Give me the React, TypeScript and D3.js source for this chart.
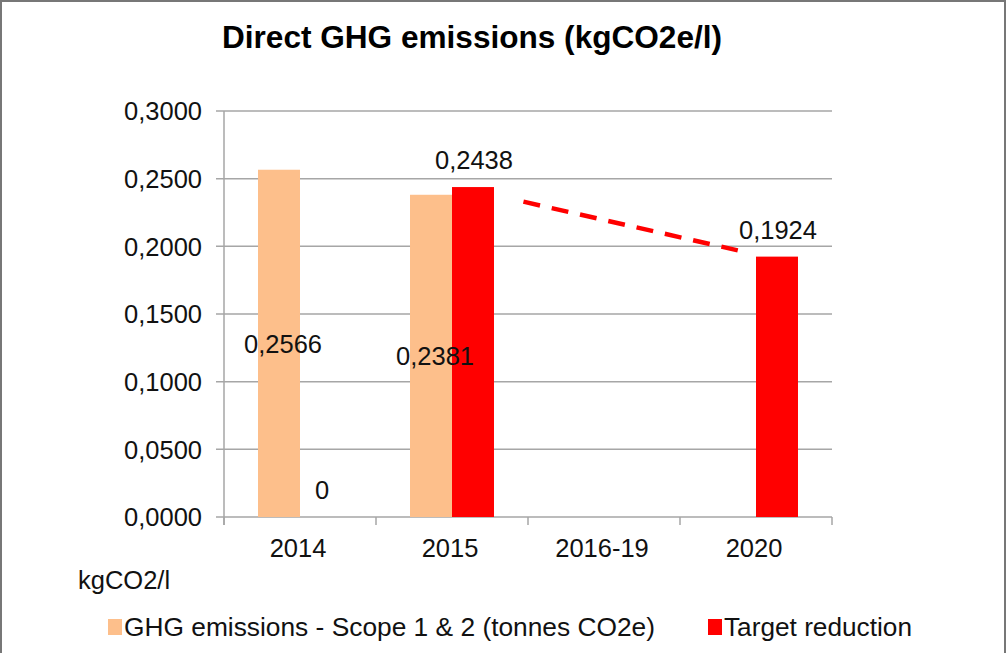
import React from "react";
import * as d3 from "d3";

const categories = ["2014", "2015", "2016-19", "2020"];
const ghgValues: (number | null)[] = [0.2566, 0.2381, null, null];
const targetValues: (number | null)[] = [0, 0.2438, null, 0.1924];
const yTicks = [0, 0.05, 0.1, 0.15, 0.2, 0.25, 0.3];
const seriesNames = ["GHG emissions - Scope 1 & 2 (tonnes CO2e)", "Target reduction"];
// dashed trend: category + offset within band (fraction of band width from centre)
const trendLine = [
  { cat: "2015", offset: 0.47, value: 0.233 },
  { cat: "2020", offset: -0.12, value: 0.197 },
];

const W = 1008;
const H = 653;
const FONT = "'Liberation Sans', Arial, Helvetica, sans-serif";
const PEACH = "#FDBF8B";
const RED = "#FF0000";
const GRID = "#A6A6A6";

const fmt = (v: number) => (v === 0 ? "0" : d3.format(".4f")(v).replace(".", ","));
const tickFmt = (v: number) => d3.format(".4f")(v).replace(".", ",");

export default function App() {
  const x = d3.scaleBand().domain(categories).range([224, 832]).paddingInner(0).paddingOuter(0);
  const xs = d3.scaleBand().domain(["ghg", "target"]).range([0, x.bandwidth()]).paddingInner(0).paddingOuter(0.81);
  const y = d3.scaleLinear().domain([0, 0.3]).range([517, 111]);
  const bw = xs.bandwidth();

  const line = d3
    .line<{ cat: string; offset: number; value: number }>()
    .x((d) => (x(d.cat) as number) + x.bandwidth() / 2 + d.offset * x.bandwidth())
    .y((d) => y(d.value));

  const boundaries = [...categories.map((c) => x(c) as number), 832];

  return (
    <svg
      width={W}
      height={H}
      style={{ position: "absolute", left: 0, top: 0, background: "#fff" }}
      fontFamily={FONT}
    >
      <rect x={0} y={0} width={W} height={H} fill="#fff" />
      {/* frame */}
      <path d={`M1,${H} L1,1 L1005,1 L1005,${H}`} fill="none" stroke="#777" strokeWidth={2} />

      <text x={222} y={48} fontSize={31} fontWeight="bold" fill="#000" textLength={500} lengthAdjust="spacingAndGlyphs">
        Direct GHG emissions (kgCO2e/l)
      </text>

      {/* gridlines */}
      {yTicks.map((t) => (
        <line key={"g" + t} x1={216} x2={832} y1={y(t)} y2={y(t)} stroke={GRID} strokeWidth={1.5} />
      ))}
      {/* y axis */}
      <line x1={224} x2={224} y1={y(0.3)} y2={y(0) + 8} stroke={GRID} strokeWidth={1.5} />
      {yTicks.map((t) => (
        <text key={"yt" + t} x={202} y={y(t)} dy="0.36em" textAnchor="end" fontSize={25.5} fill="#111">
          {tickFmt(t)}
        </text>
      ))}
      {/* x axis ticks */}
      {boundaries.map((b, i) => (
        <line key={"xt" + i} x1={b} x2={b} y1={y(0)} y2={y(0) + 8} stroke={GRID} strokeWidth={1.5} />
      ))}
      {categories.map((c) => (
        <text key={"xl" + c} x={(x(c) as number) + x.bandwidth() / 2 - 2} y={557} textAnchor="middle" fontSize={25.5} fill="#111">
          {c}
        </text>
      ))}

      {/* bars */}
      {categories.map((c, i) => {
        const v = ghgValues[i];
        if (v == null) return null;
        const bx = (x(c) as number) + (xs("ghg") as number);
        return <rect key={"b1" + c} x={bx} y={y(v)} width={bw} height={y(0) - y(v)} fill={PEACH} />;
      })}
      {categories.map((c, i) => {
        const v = targetValues[i];
        if (v == null) return null;
        const bx = (x(c) as number) + (xs("target") as number);
        return <rect key={"b2" + c} x={bx} y={y(v)} width={bw} height={y(0) - y(v)} fill={RED} />;
      })}

      {/* dashed trend */}
      <path d={line(trendLine) || ""} fill="none" stroke={RED} strokeWidth={4.5} strokeDasharray="17 12" />

      {/* labels */}
      {categories.map((c, i) => {
        const v = ghgValues[i];
        if (v == null) return null;
        const cx = (x(c) as number) + (xs("ghg") as number) + bw / 2 + 4;
        return (
          <text key={"l1" + c} x={cx} y={y(v / 2)} dy="0.36em" textAnchor="middle" fontSize={25.5} fill="#111">
            {fmt(v)}
          </text>
        );
      })}
      {categories.map((c, i) => {
        const v = targetValues[i];
        if (v == null) return null;
        const cx = (x(c) as number) + (xs("target") as number) + bw / 2 + 1;
        return (
          <text key={"l2" + c} x={cx} y={y(v) - 27} dy="0.36em" textAnchor="middle" fontSize={25.5} fill="#111">
            {fmt(v)}
          </text>
        );
      })}

      <text x={78} y={589} fontSize={25.5} fill="#111">kgCO2/l</text>

      {/* legend */}
      <rect x={108} y={619} width={14} height={16} fill={PEACH} />
      <text x={124} y={636} fontSize={26} fill="#111" textLength={531} lengthAdjust="spacingAndGlyphs">{seriesNames[0]}</text>
      <rect x={708} y={619} width={14} height={16} fill={RED} />
      <text x={724} y={636} fontSize={26} fill="#111" textLength={188} lengthAdjust="spacingAndGlyphs">{seriesNames[1]}</text>
    </svg>
  );
}
